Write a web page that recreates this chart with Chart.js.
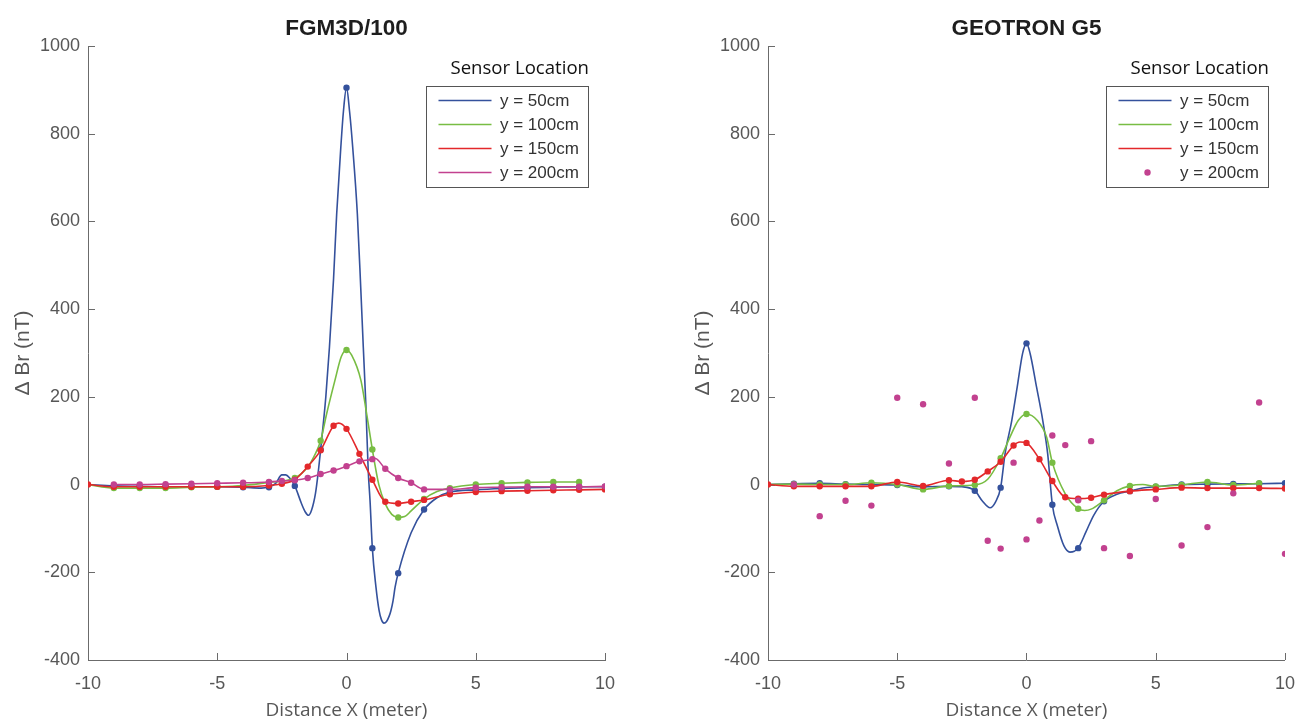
<!DOCTYPE html>
<html><head><meta charset="utf-8">
<script src="https://cdn.jsdelivr.net/npm/chart.js@4.4.1/dist/chart.umd.min.js"></script>
<style>
html,body{margin:0;padding:0;background:#fff;width:1298px;height:722px;overflow:hidden;}
canvas{position:absolute;top:0;}
#c1{left:0px} #c2{left:649px}
</style></head><body>
<canvas id="c1" width="649" height="722"></canvas>
<canvas id="c2" width="659" height="722"></canvas>
<script>
// ---------- axis ticks ----------
const xTickValues = [-10, -5, 0, 5, 10];
const yTickValues = [-400, -200, 0, 200, 400, 600, 800, 1000];
const seriesLabels = ['y = 50cm', 'y = 100cm', 'y = 150cm', 'y = 200cm'];
const chartTitles = ['FGM3D/100', 'GEOTRON G5'];

// ---------- FGM3D/100 ----------
const fgmBlueX = [-9,-8,-7,-6,-5,-4,-3,-2,-1,0,1,2,3,4,5,6,7,8,9,10];
const fgmBlueY = [-3,-4,-5,-5,-5,-6,-6,-3,80,905,-145,-202,-57,-17,-12,-9,-7,-6,-5,-5];
const fgmBlueCurveX = [-10,-9,-8,-7,-6,-5,-4,-3.3,-3,-2.75,-2.5,-2.35,-2.2,-2,-1.75,-1.6,-1.47,-1.35,-1.2,-1.1,-1,-0.8,-0.66,-0.5,-0.38,-0.22,-0.12,0,0.12,0.24,0.42,0.55,0.65,0.75,0.84,0.91,1,1.14,1.26,1.35,1.45,1.55,1.65,1.72,1.8,1.88,2,2.5,3,3.5,4,5,6,7,8,9,10];
const fgmBlueCurveY = [0,-3,-4,-5,-5,-5,-6,-8,-5,2,22,22,15,-3,-42,-62,-70,-58,-20,25,80,200,313,470,617,769,850,905,850,769,617,450,313,180,32,-36,-145,-234,-287,-308,-316,-312,-300,-287,-265,-234,-202,-110,-57,-30,-17,-12,-9,-7,-6,-5,-5];

const fgmGreenX = [-9,-8,-7,-6,-5,-4,-3,-2,-1,0,1,2,3,4,5,6,7,8,9];
const fgmGreenY = [-8,-8,-8,-6,-5,-2,5,15,100,307,80,-75,-33,-8,0,3,5,6,6];
const fgmGreenCurveX = [-10,-9,-8,-7,-6,-5,-4,-3,-2,-1.5,-1.25,-1,-0.77,-0.45,-0.2,0,0.2,0.56,0.78,1,1.25,1.5,1.75,2,2.25,2.5,3,3.5,4,5,6,7,8,9];
const fgmGreenCurveY = [0,-8,-8,-8,-6,-5,-2,5,15,40,65,100,161,237,292,307,295,237,161,80,0,-44,-68,-75,-73,-60,-33,-16,-8,0,3,5,6,6];

const fgmRedX = [-10,-9,-8,-7,-6,-5,-4,-3,-2.5,-2,-1.5,-1,-0.5,0,0.5,1,1.5,2,2.5,3,4,5,6,7,8,9,10];
const fgmRedY = [0,-5,-5,-5,-5,-5,-5,-2,2,11,41,78,134,127,70,11,-39,-43,-39,-35,-22,-17,-15,-14,-13,-12,-11];
const fgmRedPeakX = [-0.3];
const fgmRedPeakY = [140];

const fgmMagX = [-9,-8,-7,-6,-5,-4,-3,-2.5,-2,-1.5,-1,-0.5,0,0.5,1,1.5,2,2.5,3,4,5,6,7,8,9,10];
const fgmMagY = [0,0,1,2,3,4,6,8,10,15,24,32,42,53,58,36,15,4,-11,-11,-7,-6,-5,-5,-5,-4];
const fgmMagPeakX = [1.1];
const fgmMagPeakY = [60];

// ---------- GEOTRON G5 ----------
const geoBlueX = [-9,-8,-7,-6,-5,-4,-3,-2,-1,0,1,2,3,4,5,6,7,8,9,10];
const geoBlueY = [2,3,1,0,-1,-6,-4,-14,-7,322,-46,-145,-38,-15,-5,0,1,1.5,2,3];
const geoBlueCurveX = [-10,-9,-8,-7,-6,-5,-4,-3,-2.5,-2,-1.7,-1.41,-1.2,-1,-0.83,-0.57,-0.36,-0.15,0,0.14,0.39,0.63,0.82,1,1.2,1.45,1.68,1.85,2,2.3,2.6,3,3.5,4,4.5,5,6,7,8,9,10];
const geoBlueCurveY = [0,2,3,1,0,-1,-5,-4,-5,-14,-38,-53,-40,-7,70,146,222,299,322,299,222,146,70,-46,-95,-140,-154,-152,-145,-108,-70,-38,-22,-15,-8,-5,0,1,1.5,2,3];

const geoGreenX = [-9,-8,-7,-6,-5,-4,-3,-2,-1,0,1,2,3,4,5,6,7,8,9];
const geoGreenY = [1,0,0,4,0,-11,-3,-1,60,161,50,-55,-36,-3,-4,-1,6,-1,3];
const geoGreenCurveX = [-10,-9,-8,-7,-6,-5,-4,-3,-2,-1.5,-1,-0.64,-0.32,0,0.42,0.78,1,1.5,2,2.25,2.5,3,3.5,4,4.5,5,6,7,8,9];
const geoGreenCurveY = [0,1,0,0,4,0,-11,-3,-1,12,60,108,146,161,146,108,50,-21,-55,-59,-56,-36,-14,-3,0,-4,-1,6,-1,3];

const geoRedX = [-10,-9,-8,-7,-6,-5,-4,-3,-2.5,-2,-1.5,-1,-0.5,0,0.5,1,1.5,2,2.5,3,4,5,6,7,8,9,10];
const geoRedY = [0,-4,-4,-4,-4,6,-3,10,7,11,30,52,89,95,58,8,-29,-32,-30,-23,-15,-11,-7,-8,-8,-8,-9];
const geoRedPeakX = [-0.25];
const geoRedPeakY = [97];

const geoMagX = [-9,-8,-7,-6,-5,-4,-3,-2,-1.5,-1,-0.5,0,0.5,1,1.5,2,2.5,3,4,5,6,7,8,9,10];
const geoMagY = [0,-72,-37,-48,198,183,48,198,-128,-146,50,-125,-82,112,90,-36,99,-145,-163,-33,-139,-97,-20,187,-158];

// ---------- helpers ----------
const COL = { blue: '#34519c', green: '#78bd43', red: '#e3282b', mag: '#c2418f' };
const TICK_COLOR = '#575757';
const AXIS_COLOR = '#6b6b6b';
const SANS = '"Liberation Sans", Arial, sans-serif';

function pts(xs, ys) { return xs.map((x, i) => ({ x: x, y: ys[i] })); }
function withExtra(xs, ys, ex, ey) {
  return pts(xs, ys).concat(pts(ex, ey)).sort((a, b) => a.x - b.x);
}
function curveDs(data, color, order) {
  return { data: data, showLine: true, borderColor: color, backgroundColor: color,
    borderWidth: 1.6, pointRadius: 0, pointHoverRadius: 0,
    cubicInterpolationMode: 'monotone', order: order };
}
function markDs(data, color, order) {
  return { data: data, showLine: false, borderColor: color, backgroundColor: color,
    pointRadius: 3.2, pointBorderWidth: 0, order: order };
}

const decoPlugin = {
  id: 'deco',
  beforeDatasetsDraw(chart) {
    const ctx = chart.ctx;
    const xs = chart.scales.x, ys = chart.scales.y;
    ctx.save();
    ctx.strokeStyle = AXIS_COLOR;
    ctx.lineWidth = 1;
    ctx.beginPath();
    xs.ticks.forEach(t => {
      const px = Math.round(xs.getPixelForValue(t.value)) + 0.5;
      ctx.moveTo(px, xs.top); ctx.lineTo(px, xs.top - 7);
    });
    ys.ticks.forEach(t => {
      const py = Math.round(ys.getPixelForValue(t.value)) + 0.5;
      ctx.moveTo(ys.right, py); ctx.lineTo(ys.right + 7, py);
    });
    ctx.stroke();
    ctx.restore();
  },
  afterDraw(chart, args, opts) {
    const ctx = chart.ctx;
    const area = chart.chartArea;
    ctx.save();
    // title
    ctx.fillStyle = '#1e1e1e';
    ctx.font = 'bold 22.5px ' + SANS;
    ctx.textAlign = 'center';
    ctx.textBaseline = 'middle';
    ctx.fillText(opts.title, (area.left + area.right) / 2, 29);
    // legend
    const bw = 162, bh = 101;
    const bx = Math.round(area.right - 17 - bw) + 0.5;
    const by = Math.round(area.top + 40) + 0.5;
    ctx.fillStyle = '#111';
    ctx.font = '18.6px "Open Sans", sans-serif';
    ctx.textAlign = 'right';
    ctx.fillText('Sensor Location', bx + bw + 0.5, area.top + 23);
    ctx.fillStyle = '#fff';
    ctx.fillRect(bx, by, bw, bh);
    ctx.strokeStyle = '#555';
    ctx.lineWidth = 1;
    ctx.strokeRect(bx, by, bw, bh);
    ctx.font = '17px ' + SANS;
    ctx.textAlign = 'left';
    opts.items.forEach((it, i) => {
      const yy = by + 14 + i * 24;
      if (it.dot) {
        ctx.fillStyle = it.color;
        ctx.beginPath();
        ctx.arc(bx + 41, yy, 3.2, 0, Math.PI * 2);
        ctx.fill();
      } else {
        ctx.strokeStyle = it.color;
        ctx.lineWidth = 1.6;
        ctx.beginPath();
        ctx.moveTo(bx + 12, yy); ctx.lineTo(bx + 65, yy);
        ctx.stroke();
      }
      ctx.fillStyle = '#333';
      ctx.fillText(it.label, bx + 73.5, yy + 1);
    });
    ctx.restore();
  }
};

function makeOptions(padLeft, padRight, title, items) {
  return {
    responsive: false,
    animation: false,
    devicePixelRatio: 1,
    layout: { padding: { left: padLeft, right: padRight, top: 46, bottom: 0 } },
    plugins: {
      legend: { display: false },
      tooltip: { enabled: false },
      deco: { title: title, items: items }
    },
    scales: {
      x: {
        type: 'linear', min: -10, max: 10,
        afterBuildTicks: s => { s.ticks = xTickValues.map(v => ({ value: v })); },
        afterFit: s => { s.height = 62; },
        ticks: { color: TICK_COLOR, padding: 13, callback: v => String(v),
          font: { family: SANS, size: 18 } },
        grid: { display: false, drawTicks: false },
        border: { display: true, color: AXIS_COLOR, width: 1 },
        title: { display: true, text: 'Distance X (meter)', color: TICK_COLOR,
          font: { family: '"Open Sans", sans-serif', size: 19 }, padding: { top: 0, bottom: 0 } }
      },
      y: {
        type: 'linear', min: -400, max: 1000,
        afterBuildTicks: s => { s.ticks = yTickValues.map(v => ({ value: v })); },
        afterFit: s => { s.width = 88; },
        ticks: { color: TICK_COLOR, padding: 8, callback: v => String(v),
          font: { family: SANS, size: 18 } },
        grid: { display: false, drawTicks: false },
        border: { display: true, color: AXIS_COLOR, width: 1 },
        title: { display: true, text: 'Δ Br (nT)', color: TICK_COLOR,
          font: { family: SANS, size: 21 }, padding: { top: 11, bottom: 0 } }
      }
    }
  };
}

new Chart(document.getElementById('c1'), {
  type: 'scatter',
  data: { datasets: [
    markDs(pts(fgmMagX, fgmMagY), COL.mag, 0),
    curveDs(withExtra(fgmMagX, fgmMagY, fgmMagPeakX, fgmMagPeakY), COL.mag, 1),
    markDs(pts(fgmRedX, fgmRedY), COL.red, 2),
    curveDs(withExtra(fgmRedX, fgmRedY, fgmRedPeakX, fgmRedPeakY), COL.red, 3),
    markDs(pts(fgmGreenX, fgmGreenY), COL.green, 4),
    curveDs(pts(fgmGreenCurveX, fgmGreenCurveY), COL.green, 5),
    markDs(pts(fgmBlueX, fgmBlueY), COL.blue, 6),
    curveDs(pts(fgmBlueCurveX, fgmBlueCurveY), COL.blue, 7)
  ] },
  options: makeOptions(0, 44, chartTitles[0], [
    { label: seriesLabels[0], color: COL.blue },
    { label: seriesLabels[1], color: COL.green },
    { label: seriesLabels[2], color: COL.red },
    { label: seriesLabels[3], color: COL.mag }
  ]),
  plugins: [decoPlugin]
});

new Chart(document.getElementById('c2'), {
  type: 'scatter',
  data: { datasets: [
    markDs(pts(geoMagX, geoMagY), COL.mag, 0),
    markDs(pts(geoRedX, geoRedY), COL.red, 2),
    curveDs(withExtra(geoRedX, geoRedY, geoRedPeakX, geoRedPeakY), COL.red, 3),
    markDs(pts(geoGreenX, geoGreenY), COL.green, 4),
    curveDs(pts(geoGreenCurveX, geoGreenCurveY), COL.green, 5),
    markDs(pts(geoBlueX, geoBlueY), COL.blue, 6),
    curveDs(pts(geoBlueCurveX, geoBlueCurveY), COL.blue, 7)
  ] },
  options: makeOptions(31, 23, chartTitles[1], [
    { label: seriesLabels[0], color: COL.blue },
    { label: seriesLabels[1], color: COL.green },
    { label: seriesLabels[2], color: COL.red },
    { label: seriesLabels[3], color: COL.mag, dot: true }
  ]),
  plugins: [decoPlugin]
});
</script>
</body></html>
